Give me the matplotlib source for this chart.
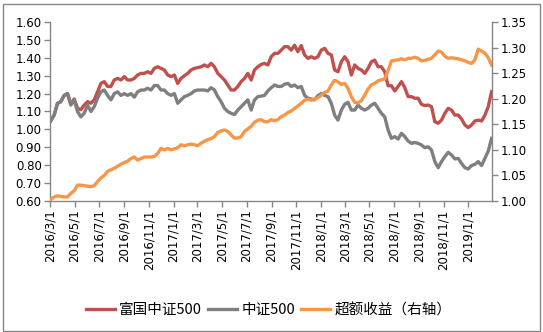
import pandas as pd
import matplotlib
matplotlib.use("Agg")
import matplotlib.pyplot as plt
from matplotlib.patches import Rectangle

# values (left axis: 富国中证500, 中证500; right axis: 超额收益)
fuguo = [1.05, 1.08, 1.145, 1.155, 1.19, 1.20, 1.14, 1.17, 1.118, 1.11, 1.136, 1.155, 1.146, 1.165, 1.21,
         1.257, 1.267, 1.24, 1.24, 1.276, 1.285, 1.276, 1.295, 1.276, 1.276, 1.285, 1.304, 1.313, 1.313, 1.322,
         1.313, 1.341, 1.35, 1.341, 1.332,
         1.304, 1.295, 1.304, 1.257, 1.285, 1.30, 1.313, 1.332, 1.341, 1.345, 1.35, 1.36, 1.35, 1.369, 1.35,
         1.313, 1.295, 1.276, 1.248, 1.22, 1.22, 1.24, 1.267, 1.285, 1.313, 1.276, 1.332, 1.35, 1.363, 1.369,
         1.36, 1.406, 1.425,
         1.425, 1.443, 1.462, 1.462, 1.443, 1.47, 1.434, 1.468, 1.416, 1.397, 1.406, 1.397, 1.406, 1.443, 1.453,
         1.425, 1.416, 1.332, 1.322, 1.378, 1.406, 1.378, 1.304, 1.36, 1.341, 1.332, 1.313, 1.341, 1.378, 1.387,
         1.35,
         1.35, 1.322, 1.244, 1.244, 1.215, 1.24, 1.267, 1.233, 1.183, 1.183, 1.174, 1.174, 1.14, 1.133, 1.136,
         1.127, 1.043, 1.034, 1.052, 1.09, 1.118, 1.108, 1.08, 1.08, 1.058, 1.025, 1.01, 1.025, 1.047, 1.052,
         1.047, 1.08, 1.127, 1.211]

csi500 = [1.047, 1.08, 1.146, 1.155, 1.19, 1.20, 1.136, 1.165, 1.10, 1.07, 1.09, 1.136, 1.10, 1.127, 1.174,
          1.21, 1.22, 1.19, 1.165, 1.20, 1.21, 1.19, 1.20, 1.19, 1.20, 1.18, 1.21, 1.22, 1.22, 1.23,
          1.22, 1.245, 1.245, 1.22, 1.22,
          1.20, 1.19, 1.20, 1.146, 1.165, 1.183, 1.19, 1.20, 1.215, 1.22, 1.22, 1.22, 1.215, 1.233, 1.22,
          1.183, 1.155, 1.118, 1.10, 1.09, 1.083, 1.108, 1.127, 1.146, 1.165, 1.108, 1.165, 1.183, 1.186, 1.19,
          1.215, 1.233, 1.248,
          1.24, 1.24, 1.252, 1.257, 1.24, 1.248, 1.233, 1.24, 1.19, 1.174, 1.17, 1.165, 1.189, 1.20, 1.19,
          1.183, 1.146, 1.08, 1.052, 1.108, 1.14, 1.151, 1.108, 1.108, 1.136, 1.118, 1.108, 1.118, 1.136, 1.146,
          1.118,
          1.09, 1.07, 0.997, 0.95, 0.96, 0.946, 0.978, 0.96, 0.935, 0.922, 0.927, 0.922, 0.913, 0.898, 0.903,
          0.885, 0.82, 0.786, 0.82, 0.848, 0.872, 0.857, 0.835, 0.838, 0.81, 0.786, 0.779, 0.798, 0.805, 0.82,
          0.798, 0.838, 0.879, 0.95]

excess = [1.003, 1.008, 1.01, 1.009, 1.008, 1.008, 1.015, 1.02, 1.031, 1.031, 1.030, 1.029, 1.028, 1.030, 1.038,
          1.045, 1.050, 1.058, 1.061, 1.064, 1.068, 1.072, 1.075, 1.078, 1.083, 1.086, 1.080, 1.083, 1.086, 1.086,
          1.086, 1.087, 1.093, 1.103, 1.10,
          1.103, 1.100, 1.102, 1.104, 1.11, 1.108, 1.11, 1.111, 1.11, 1.108, 1.113, 1.117, 1.12, 1.122, 1.126,
          1.134, 1.137, 1.139, 1.136, 1.129, 1.123, 1.123, 1.126, 1.136, 1.141, 1.146, 1.154, 1.158, 1.159, 1.155,
          1.155, 1.159, 1.157,
          1.159, 1.165, 1.168, 1.173, 1.176, 1.181, 1.186, 1.191, 1.197, 1.199, 1.197, 1.199, 1.202, 1.207, 1.212,
          1.215, 1.227, 1.236, 1.233, 1.228, 1.23, 1.22, 1.204, 1.193, 1.192, 1.196, 1.207, 1.219, 1.227, 1.23,
          1.235,
          1.237, 1.239, 1.255, 1.274, 1.275, 1.276, 1.278, 1.276, 1.279, 1.279, 1.281, 1.279, 1.274, 1.275, 1.277,
          1.279, 1.286, 1.293, 1.291, 1.283, 1.279, 1.28, 1.279, 1.278, 1.276, 1.274, 1.271, 1.269, 1.276, 1.297,
          1.293, 1.289, 1.28, 1.266]

dates = pd.date_range("2016-03-03", "2019-02-28", periods=len(fuguo))

tick_dates = pd.date_range("2016-03-01", "2019-01-01", freq="2MS")
tick_labels = [f"{d.year}/{d.month}/{d.day}" for d in tick_dates]

labels = ["富国中证500", "中证500", "超额收益（右轴）"]
colors = ["#C0504D", "#7F7F7F", "#F79646"]
axis_color = "#868686"

plt.rcParams["font.family"] = ["DejaVu Sans"]

fig = plt.figure(figsize=(5.43, 3.32), dpi=100)
ax = fig.add_axes([50 / 543, 1 - 201 / 332, 442 / 543, 179 / 332])
ax2 = ax.twinx()

l1, = ax.plot(dates, fuguo, color=colors[0], lw=2.4, label=labels[0])
l2, = ax.plot(dates, csi500, color=colors[1], lw=2.4, label=labels[1])
l3, = ax2.plot(dates, excess, color=colors[2], lw=2.4, label=labels[2])

ax.set_xlim(pd.Timestamp("2016-03-01"), pd.Timestamp("2019-03-01"))
ax.set_ylim(0.6, 1.6)
ax2.set_ylim(1.0, 1.35)
ax.set_yticks([0.6 + 0.1 * k for k in range(11)])
ax.set_yticklabels([f"{0.6 + 0.1 * k:.2f}" for k in range(11)])
ax2.set_yticks([1.0 + 0.05 * k for k in range(8)])
ax2.set_yticklabels([f"{1.0 + 0.05 * k:.2f}" for k in range(8)])

ax.set_xticks(tick_dates)
ax.set_xticklabels(tick_labels, rotation=90)

for a in (ax, ax2):
    a.spines["top"].set_visible(False)
    for s in ("left", "right", "bottom"):
        a.spines[s].set_color(axis_color)
        a.spines[s].set_linewidth(1.0)
    a.tick_params(axis="both", colors=axis_color, labelcolor="black", labelsize=8.5,
                  length=4, width=1.0, pad=2)
ax.spines["right"].set_visible(False)
ax2.spines["left"].set_visible(False)
ax2.spines["bottom"].set_visible(False)

fig.legend([l1, l2, l3], labels, loc="center", bbox_to_anchor=(0.495, 0.066), ncol=3,
           frameon=False, handlelength=2.0, handletextpad=0.3, columnspacing=0.4,
           prop={"family": ["Noto Sans CJK SC", "DejaVu Sans"], "size": 10.5})

# outer chart border
fig.patches.append(Rectangle((3 / 543, 1 / 332), 537 / 543, 327 / 332, transform=fig.transFigure,
                             fill=False, edgecolor=axis_color, lw=1.0))

fig.savefig("out.png", dpi=100)
